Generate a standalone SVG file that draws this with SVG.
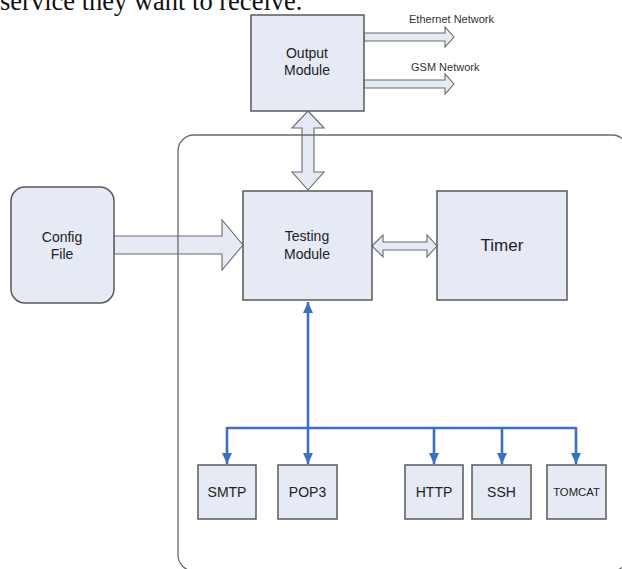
<svg xmlns="http://www.w3.org/2000/svg" width="622" height="569" viewBox="0 0 622 569">
<style>
.box{fill:#e5eaf5;stroke:#5a5a5a;stroke-width:1.5}
.fat{fill:#e5eaf5;stroke:#6a6a6a;stroke-width:1.1;stroke-linejoin:miter}
.lbl{font-family:"Liberation Sans",Arial,sans-serif;fill:#222;text-anchor:middle}
.net{font-family:"Liberation Sans",Arial,sans-serif;fill:#333;font-size:11px}
.blue{stroke:#3d70c2;stroke-width:2.6;fill:none}
.cont{fill:none;stroke:#6a6a6a;stroke-width:1.3}
</style>
<defs>
<marker id="ah" viewBox="0 0 11 10" refX="11" refY="5" markerWidth="11" markerHeight="10" markerUnits="userSpaceOnUse" orient="auto-start-reverse">
<path d="M0,0 L11,5 L0,10 z" fill="#3d70c2"/>
</marker>
</defs>
<rect width="622" height="569" fill="#ffffff"/>
<text x="0" y="10" font-family="Liberation Serif,'Times New Roman',serif" font-size="26.5" fill="#111">service they want to receive.</text>

<g id="connectors">
<polygon class="fat" points="364,33 445,33 445,27 454,37 445,47 445,41 364,41"/>
<polygon class="fat" points="364,80 445,80 445,74 454,84 445,94 445,88 364,88"/>
<polygon class="fat" points="308,111 324,128 314,128 314,172 324,172 308,190 292,172 302,172 302,128 292,128"/>
<polygon class="fat" points="114,236 222,236 222,220 243,245 222,270 222,254 114,254"/>
<polygon class="fat" points="372,246 383,235 383,242 427,242 427,235 437,246 427,257 427,250 383,250 383,257"/>
<line class="blue" x1="308" y1="428" x2="308" y2="302" marker-end="url(#ah)"/>
<line class="blue" x1="308" y1="428" x2="308" y2="464" marker-end="url(#ah)"/>
<path class="blue" d="M227,428 H576"/>
<line class="blue" x1="227" y1="427" x2="227" y2="464" marker-end="url(#ah)"/>
<line class="blue" x1="434" y1="427" x2="434" y2="464" marker-end="url(#ah)"/>
<line class="blue" x1="502" y1="427" x2="502" y2="464" marker-end="url(#ah)"/>
<line class="blue" x1="576" y1="427" x2="576" y2="464" marker-end="url(#ah)"/>
</g>

<rect id="container" class="cont" x="178" y="135" width="450" height="436" rx="16"/>

<text class="net" x="409" y="23">Ethernet Network</text>
<text class="net" x="411" y="71">GSM Network</text>

<g id="output">
<rect class="box" x="251" y="15" width="113" height="96"/>
<text class="lbl" x="307" y="58" font-size="14">Output</text>
<text class="lbl" x="307" y="75" font-size="14">Module</text>
</g>
<g id="config">
<rect class="box" x="11" y="187" width="103" height="116" rx="14"/>
<text class="lbl" x="62" y="242" font-size="14">Config</text>
<text class="lbl" x="62" y="259" font-size="14">File</text>
</g>
<g id="testing">
<rect class="box" x="243" y="191" width="129" height="109"/>
<text class="lbl" x="307" y="241" font-size="14">Testing</text>
<text class="lbl" x="307" y="259" font-size="14">Module</text>
</g>
<g id="timer">
<rect class="box" x="437" y="191" width="130" height="109"/>
<text class="lbl" x="502" y="251" font-size="17">Timer</text>
</g>
<g id="smtp">
<rect class="box" x="198" y="465" width="58" height="54"/>
<text class="lbl" x="227" y="497" font-size="14">SMTP</text>
</g>
<g id="pop3">
<rect class="box" x="278" y="465" width="59" height="54"/>
<text class="lbl" x="307.5" y="497" font-size="14">POP3</text>
</g>
<g id="http">
<rect class="box" x="405" y="465" width="58" height="54"/>
<text class="lbl" x="434" y="497" font-size="14">HTTP</text>
</g>
<g id="ssh">
<rect class="box" x="472" y="465" width="59" height="54"/>
<text class="lbl" x="501.5" y="497" font-size="14">SSH</text>
</g>
<g id="tomcat">
<rect class="box" x="547" y="465" width="59" height="54"/>
<text class="lbl" x="576.5" y="496" font-size="11.3">TOMCAT</text>
</g>
</svg>
